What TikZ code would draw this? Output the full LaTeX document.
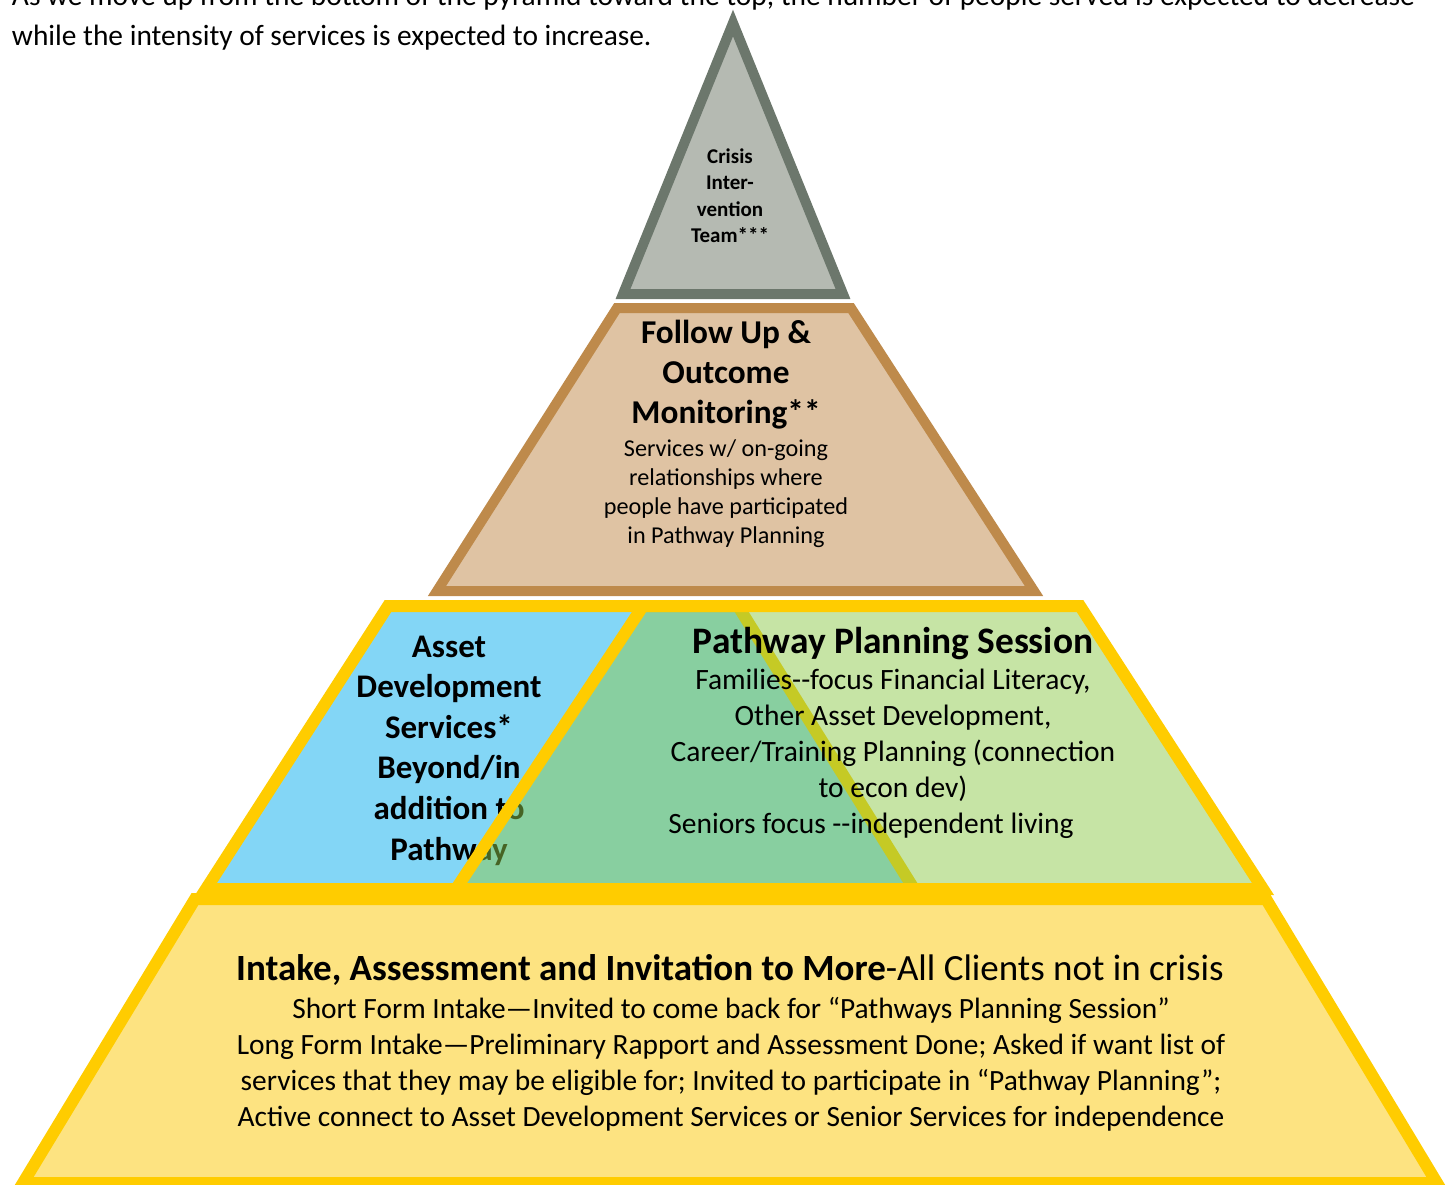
\documentclass[tikz,border=0pt]{standalone}
\usepackage{fontspec}
\setmainfont{Carlito}[Ligatures=TeXOff]
\definecolor{crgray}{HTML}{6C776C}
\definecolor{crfill}{HTML}{B5BAB2}
\definecolor{fubrown}{HTML}{BE8A4B}
\definecolor{fufill}{HTML}{DFC3A3}
\definecolor{yel}{HTML}{FFCC00}
\definecolor{skyb}{HTML}{83D6F6}
\definecolor{grn}{RGB}{141,201,75}
\definecolor{botfill}{HTML}{FDE381}
\tikzset{
  lbl/.style={inner sep=0pt, outer sep=0pt, align=center, text=black},
  toptext/.style={inner sep=0pt, outer sep=0pt, font=\fontsize{29.4}{40}\selectfont},
  tier/.style={line join=miter},
}
\begin{document}
\begin{tikzpicture}[x=1pt,y=-1pt]
\useasboundingbox (0,0) rectangle (1446,1185);
% top text
\node[toptext, anchor=base west] (t1) at (12,6) {As we move up from the bottom of the pyramid toward the top, the number of people served is expected to decrease};
\node[toptext, anchor=base west] (t2) at (12,46) {while the intensity of services is expected to increase.};
% follow-up tier
\draw[tier, draw=fubrown, fill=fufill, line width=10] (617,308) -- (851,308) -- (1034,591) -- (437,591) -- cycle;
% crisis tier
\draw[tier, draw=crgray, fill=crfill, line width=10] (733,23) -- (843,294) -- (623,294) -- cycle;
% (multi-line nodes are anchored at the baseline of their last line)
\node[lbl, anchor=base, font=\bfseries\fontsize{21}{26.5}\selectfont] (crisis) at (730,243) {Crisis\\Inter-\\vention\\Team***};
\node[lbl, anchor=base, font=\bfseries\fontsize{33.3}{40}\selectfont] (futitle) at (726,423) {Follow Up \&\\Outcome\\Monitoring**};
\node[lbl, anchor=base, font=\fontsize{24.2}{29}\selectfont] (fubody) at (726,543) {Services w/ on-going\\relationships where\\people have participated\\in Pathway Planning};
% bottom tier
\draw[tier, draw=yel, fill=botfill, line width=12] (195,899) -- (1266,899) -- (1437,1183) -- (23,1183) -- cycle;
% asset development tier
\draw[tier, draw=yel, fill=skyb, line width=12] (388,606) -- (738,606) -- (914,889) -- (206,889) -- cycle;
\node[lbl, anchor=base, font=\bfseries\fontsize{33}{40.6}\selectfont] (asset) at (449,860) {Asset\\Development\\Services*\\Beyond/in\\addition to\\Pathway};
% pathway planning tier (semi-transparent over the asset tier)
\draw[tier, draw=yel, fill=grn, fill opacity=0.5, line width=12] (643,606) -- (1080,606) -- (1263,889) -- (456,889) -- cycle;
\node[lbl, anchor=base, font=\bfseries\fontsize{37.4}{40}\selectfont] (pptitle) at (893,653) {Pathway Planning Session};
\node[lbl, anchor=base, font=\fontsize{29.5}{35.7}\selectfont] (ppbody) at (893,797) {Families--focus Financial Literacy,\\Other Asset Development,\\Career/Training Planning (connection\\to econ dev)};
\node[lbl, anchor=base, font=\fontsize{29.5}{35.7}\selectfont] (ppseniors) at (871,833) {Seniors focus --independent living};
% bottom text
\node[lbl, anchor=base, font=\fontsize{37}{40}\selectfont] (bttitle) at (730,980) {\textbf{Intake, Assessment and Invitation to More}-All Clients not in crisis};
\node[lbl, anchor=base, font=\fontsize{29.4}{36}\selectfont] (btbody) at (731,1126) {Short Form Intake—Invited to come back for “Pathways Planning Session”\\Long Form Intake—Preliminary Rapport and Assessment Done; Asked if want list of\\services that they may be eligible for; Invited to participate in “Pathway Planning”;\\Active connect to Asset Development Services or Senior Services for independence};
\end{tikzpicture}
\end{document}
